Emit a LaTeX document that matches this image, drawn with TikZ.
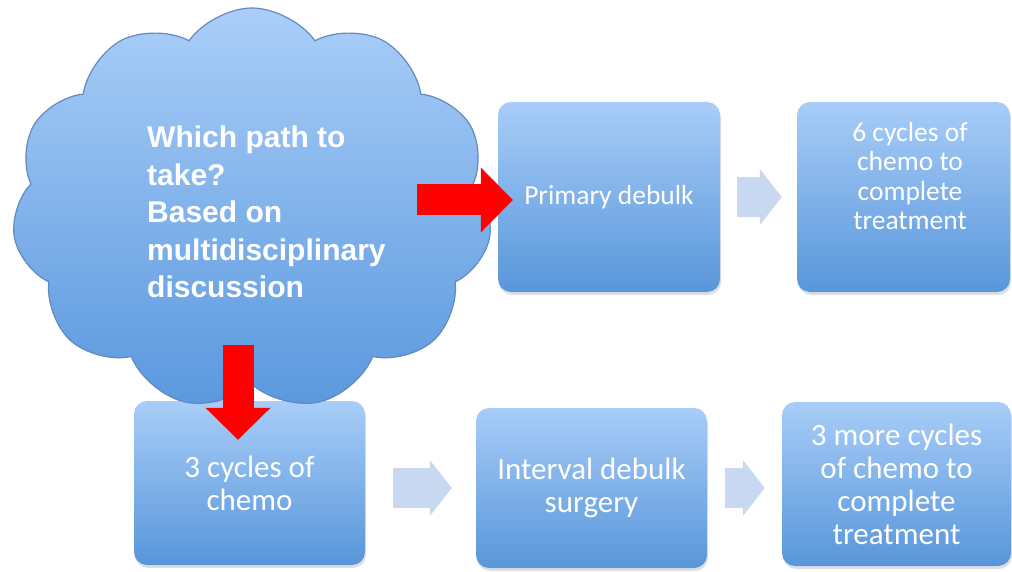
\documentclass[tikz,border=0pt]{standalone}
\usepackage{fontspec}
\setmainfont{Carlito}
\newfontfamily\cloudfont{Liberation Sans}
\usetikzlibrary{shapes.symbols,arrows.meta,shadows}

\definecolor{boxtop}{RGB}{168,205,248}
\definecolor{boxbot}{RGB}{88,150,218}
\definecolor{cloudtop}{RGB}{170,206,248}
\definecolor{cloudbot}{RGB}{90,152,222}
\definecolor{cloudline}{RGB}{98,138,190}
\definecolor{paleblue}{RGB}{200,216,240}

\begin{document}
\begin{tikzpicture}[x=1pt,y=-1pt,
	box/.style={rounded corners=13pt, top color=boxtop, bottom color=boxbot, inner sep=0pt,
		text=white, align=center, drop shadow={shadow xshift=1pt, shadow yshift=-3pt, opacity=.25}},
	redarrow/.style={red, line width=31pt, -{Triangle[length=32pt,width=65pt,line width=0pt]}},
	palearrow/.style={paleblue, line width=40pt, -{Triangle[length=22pt,width=56pt,line width=0pt]}}]

		\useasboundingbox (0,0) rectangle (1012,572);

		% top row
		\node[box, minimum width=222pt, minimum height=190pt, font=\fontsize{27.5}{30}\selectfont] (primary) at (609,197) {Primary debulk};
		\node[box, minimum width=213pt, minimum height=190pt] (six) at (903.5,197) {};
		\node[text=white, align=center, font=\fontsize{27.5}{29.5}\selectfont] (sixtext) at (910,176) {6 cycles of\\chemo to\\complete\\treatment};

		% bottom row
		\node[box, minimum width=231pt, minimum height=164pt, font=\fontsize{31}{33}\selectfont] (chemo) at (249.5,483) {3 cycles of\\chemo};
		\node[box, minimum width=231pt, minimum height=160pt, font=\fontsize{31}{33}\selectfont] (interval) at (591.5,488) {Interval debulk\\surgery};
		\node[box, minimum width=229pt, minimum height=164pt, font=\fontsize{31}{33}\selectfont] (more) at (896.5,484) {3 more cycles\\of chemo to\\complete\\treatment};

		% the question
		\node[cloud, cloud puffs=11, cloud puff arc=110, aspect=1.19, minimum width=480pt, minimum height=402pt,
			top color=cloudtop, bottom color=cloudbot, draw=cloudline, line width=1.2pt] (cloud) at (252,209) {};
		\node[anchor=north west, inner sep=0pt, align=left, text=white,
			font=\cloudfont\bfseries\fontsize{30}{37.5}\selectfont] (q) at (147,126)
			{Which path to\\take?\\Based on\\multidisciplinary\\discussion};

		\draw[palearrow] ([xshift=17pt]primary.east) -- ([xshift=-15pt]six.west);
		\draw[palearrow] ([xshift=28pt]chemo.east |- interval.west) -- ([xshift=-24pt]interval.west);
		\draw[palearrow] ([xshift=18pt]interval.east) -- ([xshift=-17pt]more.west |- interval.east);

		\coordinate (hstart) at (417,200);
		\coordinate (vstart) at (238,345);
		\draw[redarrow] (hstart) -- ([xshift=15pt]hstart -| primary.west);
		\draw[redarrow] (vstart) -- ([yshift=-39pt]vstart |- chemo.north);

	\end{tikzpicture}
\end{document}
